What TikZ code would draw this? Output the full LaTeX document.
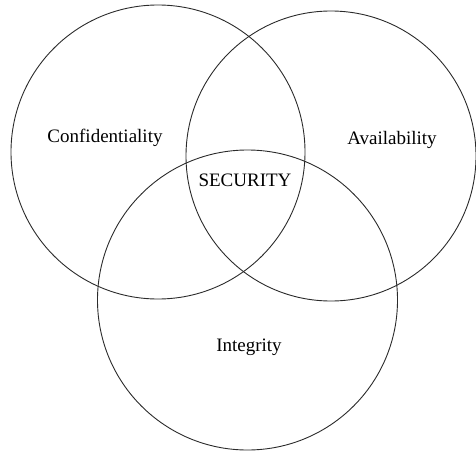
\documentclass[tikz,border=0pt]{standalone}
\usepackage{fontspec}
\setmainfont{Liberation Serif}
\usetikzlibrary{positioning}
\definecolor{RingLine}{HTML}{2B2B2B}

\begin{document}
\begin{tikzpicture}[x=1pt,y=-1pt]
    \tikzset{ring/.style={draw=RingLine,line width=0.9pt},
      ringlabel/.style={font=\fontsize{19}{21}\selectfont,inner sep=0pt}}
    \useasboundingbox (0,0) rectangle (476,450);
    % the three overlapping sets
    \draw[ring] (158,152) circle[radius=147];
    \draw[ring] (331,156) circle[radius=145];
    \draw[ring] (247.5,300) circle[radius=150];
    \node[ringlabel] (conf) at (105,138) {Confidentiality};
    \node[ringlabel] (avail) at (392,140) {Availability};
    \node[ringlabel] (integ) at (249,347) {Integrity};
    \node[ringlabel] (sec) at (245,180) {SECURITY};
  \end{tikzpicture}
\end{document}
